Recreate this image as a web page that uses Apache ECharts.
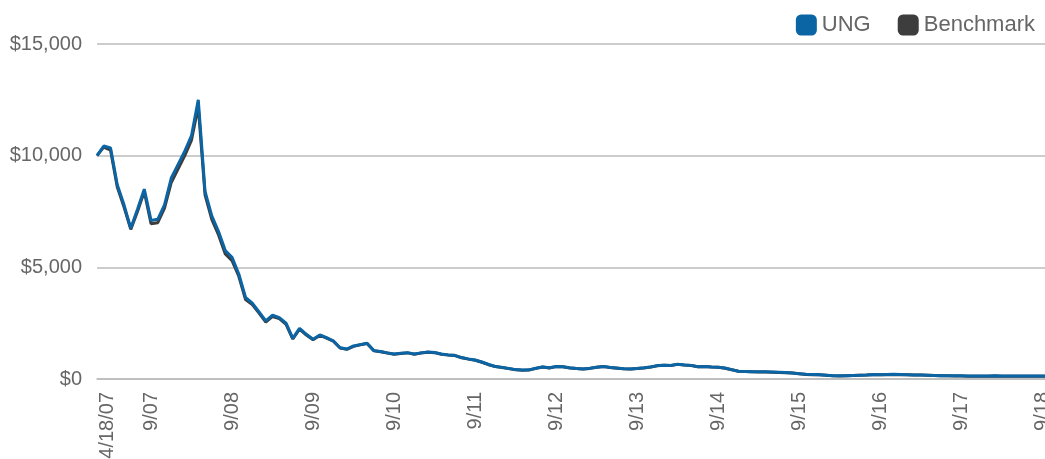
<!DOCTYPE html>
<html>
<head>
<meta charset="utf-8">
<script src="https://cdn.jsdelivr.net/npm/echarts@6/dist/echarts.min.js"></script>
<style>
  html, body { margin: 0; padding: 0; background: #fff; }
  #chart { width: 1045px; height: 459px; }
</style>
</head>
<body>
<div id="chart"></div>
<script>
// month labels: first point is the launch date, then month ends
var categories = ['4/18/07'];
for (var m = 4; m <= 12 + 12 * 11; m++) {
  var yr = 7 + Math.floor((m - 1) / 12);
  var mo = ((m - 1) % 12) + 1;
  categories.push(mo + '/' + (yr < 10 ? '0' + yr : yr));
}

var yTicks = [0, 5000, 10000, 15000];

var ungValues = [
  10000, 10430, 10350, 8700, 7800, 6750, 7600, 8500, 7100, 7150,
  7800, 9000, 9600, 10200, 10900, 12500, 8400, 7300, 6600, 5750,
  5450, 4700, 3650, 3400, 3000, 2600, 2860, 2750, 2500, 1820,
  2270, 2000, 1780, 1970, 1850, 1710, 1400, 1340, 1480, 1540,
  1600, 1270, 1230, 1170, 1120, 1150, 1180, 1120, 1170, 1210,
  1190, 1120, 1080, 1060, 960, 900, 850, 760, 650, 560,
  520, 470, 420, 400, 410, 480, 540, 500, 560, 550,
  500, 470, 450, 480, 530, 560, 520, 490, 460, 450,
  470, 500, 540, 600, 620, 610, 660, 630, 610, 550,
  560, 540, 530, 490, 420, 350, 340, 330, 320, 320,
  310, 300, 290, 270, 240, 210, 200, 190, 170, 150,
  140, 150, 160, 170, 180, 200, 190, 200, 210, 200,
  190, 180, 180, 170, 160, 150, 150, 140, 140, 130,
  130, 130, 130, 140, 130, 130, 130, 130, 130, 130,
  130, 130
];

var benchValues = [
  10000, 10380, 10250, 8600, 7700, 6700, 7500, 8400, 6950, 7000,
  7650, 8800, 9400, 10000, 10700, 12200, 8250, 7150, 6450, 5600,
  5300, 4600, 3560, 3330, 2950, 2550, 2800, 2700, 2450, 1790,
  2230, 1970, 1760, 1950, 1830, 1690, 1390, 1330, 1460, 1530,
  1590, 1260, 1220, 1160, 1110, 1140, 1170, 1110, 1160, 1200,
  1180, 1110, 1070, 1050, 950, 890, 840, 750, 640, 555,
  515, 465, 415, 395, 405, 475, 535, 495, 555, 545,
  495, 465, 445, 475, 525, 555, 515, 485, 455, 445,
  465, 495, 535, 595, 615, 605, 655, 625, 605, 545,
  555, 535, 525, 485, 415, 345, 335, 325, 315, 315,
  305, 295, 285, 265, 235, 205, 195, 185, 165, 145,
  135, 145, 155, 165, 175, 195, 185, 195, 205, 195,
  185, 175, 175, 165, 155, 145, 145, 135, 135, 125,
  125, 125, 125, 135, 125, 125, 125, 125, 125, 125,
  125, 125
];

var textColor = '#666666';
var gridColor = '#bbbbbb';
var font = 'Liberation Sans';

var chart = echarts.init(document.getElementById('chart'));

var option = {
  animation: false,
  grid: { left: 97, right: -4, top: 44, bottom: 80, outerBoundsMode: 'none' },
  legend: {
    data: ['UNG', 'Benchmark'],
    right: 5,
    top: 9,
    icon: 'roundRect',
    itemWidth: 21,
    itemHeight: 21,
    itemGap: 27,
    textStyle: { fontSize: 22, color: textColor, fontFamily: font }
  },
  xAxis: {
    type: 'category',
    data: categories,
    boundaryGap: false,
    axisLine: { lineStyle: { color: gridColor, width: 1.5 } },
    axisTick: { show: false },
    axisLabel: {
      rotate: 90,
      margin: 13,
      fontSize: 20,
      lineHeight: 27,
      verticalAlign: 'top',
      color: textColor,
      fontFamily: font,
      formatter: function (value, index) {
        return index === 0 ? '{first|' + value + '}' : value;
      },
      rich: {
        first: { fontSize: 20, lineHeight: 20, color: textColor, fontFamily: font }
      },
      interval: function (index, value) {
        return index === 0 || value.indexOf('9/') === 0;
      }
    }
  },
  yAxis: {
    type: 'value',
    min: yTicks[0],
    max: yTicks[yTicks.length - 1],
    interval: 5000,
    axisLine: { show: false },
    axisTick: { show: false },
    splitLine: { lineStyle: { color: gridColor, width: 1.5 } },
    axisLabel: {
      margin: 15,
      fontSize: 20,
      color: textColor,
      fontFamily: font,
      formatter: function (v) {
        return '$' + String(v).replace(/\B(?=(\d{3})+(?!\d))/g, ',');
      }
    }
  },
  series: [
    {
      name: 'UNG',
      type: 'line',
      data: ungValues,
      symbol: 'none',
      z: 3,
      itemStyle: { color: '#0b64a3' },
      lineStyle: { color: '#0b64a3', width: 3 }
    },
    {
      name: 'Benchmark',
      type: 'line',
      data: benchValues,
      symbol: 'none',
      z: 2,
      itemStyle: { color: '#3d3d3d' },
      lineStyle: { color: '#3d3d3d', width: 3 }
    }
  ]
};

option && chart.setOption(option);
</script>
</body>
</html>
